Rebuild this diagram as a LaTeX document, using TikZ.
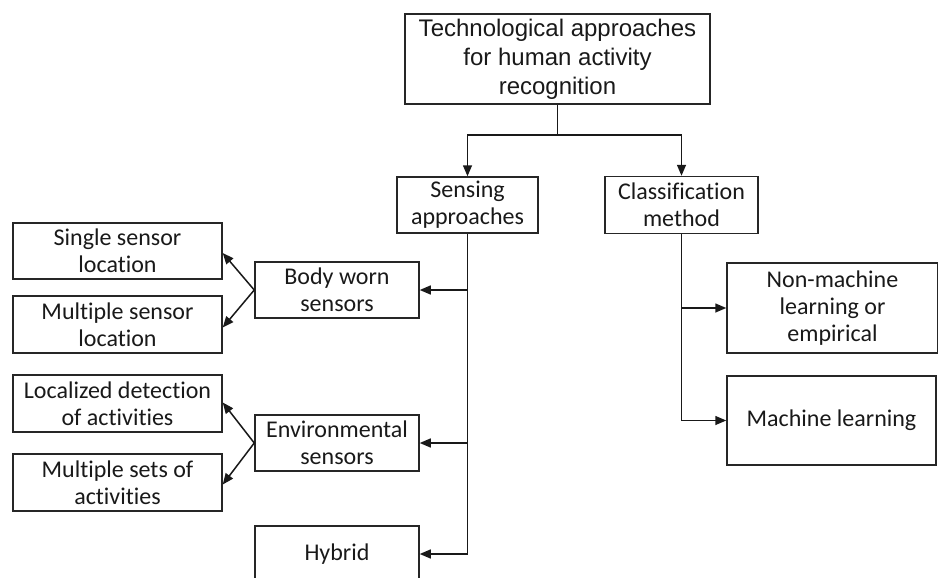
\documentclass[tikz,border=0pt]{standalone}
\usepackage{fontspec}
\setmainfont{Carlito}[Ligatures=NoCommon,RawFeature={-liga;-clig}]
\newfontfamily\arialf{Liberation Sans}
\usetikzlibrary{arrows.meta}
\begin{document}
\begin{tikzpicture}[x=1pt,y=-1pt,
 box/.style={draw=black!85, line width=1.5pt, rectangle, align=center, inner sep=0pt, text=black!90, font=\fontsize{24}{27}\selectfont},
 arr/.style={draw=black!90, line width=1.5pt, -{Triangle[length=11pt,width=9pt]}},
 ln/.style={draw=black!90, line width=1.5pt}]
\useasboundingbox (0,0) rectangle (938,578);
\node[box, minimum width=305pt, minimum height=90pt, font=\arialf\fontsize{24}{29}\selectfont] (top) at (557.5,59) {Technological approaches\\for human activity\\recognition};
\node[box, minimum width=141pt, minimum height=56pt] (sens) at (467.5,205) {Sensing\\approaches};
\node[box, minimum width=153pt, minimum height=57pt] (cls) at (681.5,205) {Classification\\method};
\node[box, minimum width=164pt, minimum height=56pt] (body) at (337,290) {Body worn\\sensors};
\node[box, minimum width=209pt, minimum height=56pt] (single) at (117.5,251) {Single sensor\\location};
\node[box, minimum width=209pt, minimum height=57pt] (multi) at (117.5,324.5) {Multiple sensor\\location};
\node[box, minimum width=164pt, minimum height=56pt] (env) at (337,443) {Environmental\\sensors};
\node[box, minimum width=209pt, minimum height=57pt] (loc) at (117.5,403.5) {Localized detection\\of activities};
\node[box, minimum width=209pt, minimum height=57pt] (msets) at (117.5,482.5) {Multiple sets of\\activities};
\node[box, minimum width=164pt, minimum height=56pt] (hyb) at (337,554) {Hybrid};
\node[box, minimum width=211pt, minimum height=90pt] (nonml) at (832.5,308) {Non-machine\\learning or\\empirical};
\node[box, minimum width=209pt, minimum height=89pt] (ml) at (831.5,420.5) {Machine learning};
\draw[ln] (top.south) -- (557.5,135) coordinate (j1);
\draw[arr] (j1) -| (sens.north);
\draw[arr] (j1) -| (cls.north);
\draw[arr] (sens.south) |- (hyb.east);
\draw[arr] (sens.south |- body.east) -- (body.east);
\draw[arr] (sens.south |- env.east) -- (env.east);
\draw[arr] (cls.south) |- (ml.west);
\draw[arr] (cls.south |- nonml.west) -- (nonml.west);
\draw[arr] (body.west) -- ([yshift=-2pt]single.east);
\draw[arr] (body.west) -- ([yshift=-3pt]multi.east);
\draw[arr] (env.west) -- ([yshift=1pt]loc.east);
\draw[arr] (env.west) -- ([yshift=-2pt]msets.east);
\end{tikzpicture}
\end{document}
